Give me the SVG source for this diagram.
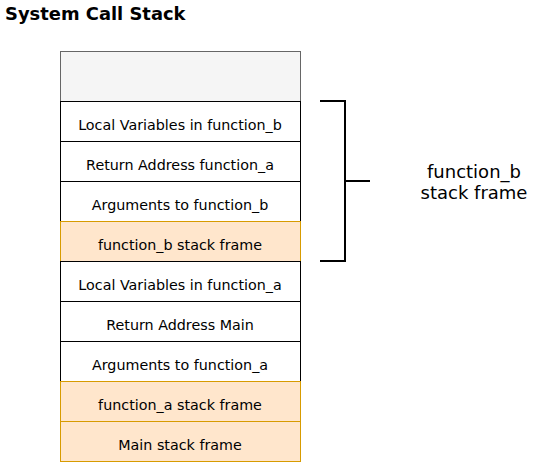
<svg xmlns="http://www.w3.org/2000/svg" width="551" height="462" viewBox="0 0 551 462">
<style>
text{font-family:"DejaVu Sans",Verdana,sans-serif;fill:#000}
.row{fill:#fff;stroke:#000;stroke-width:1}
.org{fill:#ffe6cc;stroke:#d79b00;stroke-width:1}
.lbl{font-size:14.3px;text-anchor:middle}
.br{fill:none;stroke:#000;stroke-width:2}
</style>
<rect width="551" height="462" fill="#fff"/>
<text x="5" y="20" font-size="17.9" font-weight="bold">System Call Stack</text>
<g id="top"><rect x="60.5" y="51.5" width="240" height="50" fill="#f5f5f5" stroke="#666"/></g>
<g id="lv_b"><rect class="row" x="60.5" y="101.5" width="240" height="40"/><text class="lbl" x="180" y="130">Local Variables in function_b</text></g>
<g id="ra_a"><rect class="row" x="60.5" y="141.5" width="240" height="40"/><text class="lbl" x="180" y="170">Return Address function_a</text></g>
<g id="arg_b"><rect class="row" x="60.5" y="181.5" width="240" height="40"/><text class="lbl" x="180" y="210">Arguments to function_b</text></g>
<g id="sf_b"><rect class="org" x="60.5" y="221.5" width="240" height="40"/><text class="lbl" x="180" y="250">function_b stack frame</text></g>
<g id="lv_a"><rect class="row" x="60.5" y="261.5" width="240" height="40"/><text class="lbl" x="180" y="290">Local Variables in function_a</text></g>
<g id="ra_m"><rect class="row" x="60.5" y="301.5" width="240" height="40"/><text class="lbl" x="180" y="330">Return Address Main</text></g>
<g id="arg_a"><rect class="row" x="60.5" y="341.5" width="240" height="40"/><text class="lbl" x="180" y="370">Arguments to function_a</text></g>
<g id="sf_a"><rect class="org" x="60.5" y="381.5" width="240" height="40"/><text class="lbl" x="180" y="410">function_a stack frame</text></g>
<g id="sf_m"><rect class="org" x="60.5" y="421.5" width="240" height="40"/><text class="lbl" x="180" y="450">Main stack frame</text></g>
<g id="connectors">
<path class="br" d="M320 101H345V261H320M345 181H370"/>
</g>
<g id="brace_label"><text x="474" y="178" font-size="18" text-anchor="middle">function_b</text><text x="474" y="199" font-size="18" text-anchor="middle">stack frame</text></g>
</svg>
